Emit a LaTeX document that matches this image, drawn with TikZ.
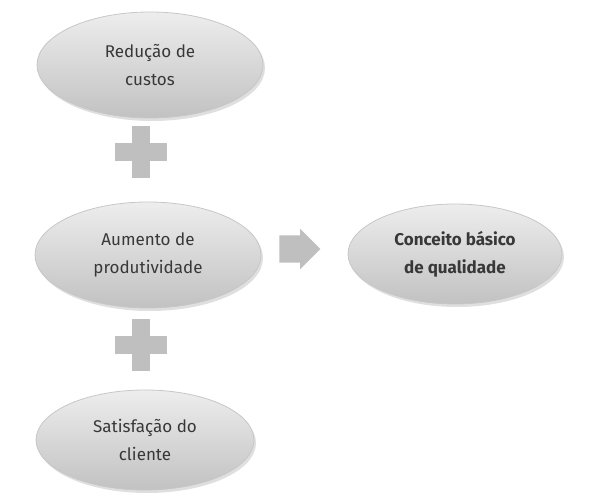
\documentclass[tikz,border=0pt]{standalone}
\usepackage{fontspec}
\setmainfont{Fira Sans}
\usetikzlibrary{shapes.geometric,shapes.arrows,shadows}
\tikzset{
  oval/.style={ellipse, draw=black!22, line width=0.8pt, top color=black!7, bottom color=black!24,
    drop shadow={shadow xshift=2pt, shadow yshift=-3pt, opacity=0.25},
    align=center, text=black!78, font=\fontsize{17}{28}\selectfont,
    minimum width=226pt, minimum height=106pt, inner sep=0pt},
  plussign/.style={minimum size=52pt, inner sep=0pt,
    path picture={
      \fill[black!25] ([xshift=-9pt]path picture bounding box.north) rectangle ([xshift=9pt]path picture bounding box.south);
      \fill[black!25] ([yshift=-9pt]path picture bounding box.west) rectangle ([yshift=9pt]path picture bounding box.east);
    }},
  goarrow/.style={single arrow, fill=black!25, draw=none, minimum height=41pt,
    single arrow head extend=6.5pt, inner xsep=0pt, inner ysep=13.5pt}
}
\begin{document}
\begin{tikzpicture}[x=1pt,y=1pt]
\useasboundingbox (0,0) rectangle (593,502);
\node[oval] (r) at (150,437) {Redução de\\custos};
\node[oval] (a) at (148,247) {Aumento de\\produtividade};
\node[oval, minimum width=218pt, minimum height=100pt] (s) at (145,62) {Satisfação do\\cliente};
\node[oval, minimum width=214pt, minimum height=100pt, font=\fontsize{17}{28}\selectfont\bfseries] (q) at (455,248) {Conceito básico\\de qualidade};
\node[plussign] (p1) at (141,350) {};
\node[plussign] (p2) at (141,157) {};
\node[goarrow] (g) at (293,253) {};
\end{tikzpicture}
\end{document}
